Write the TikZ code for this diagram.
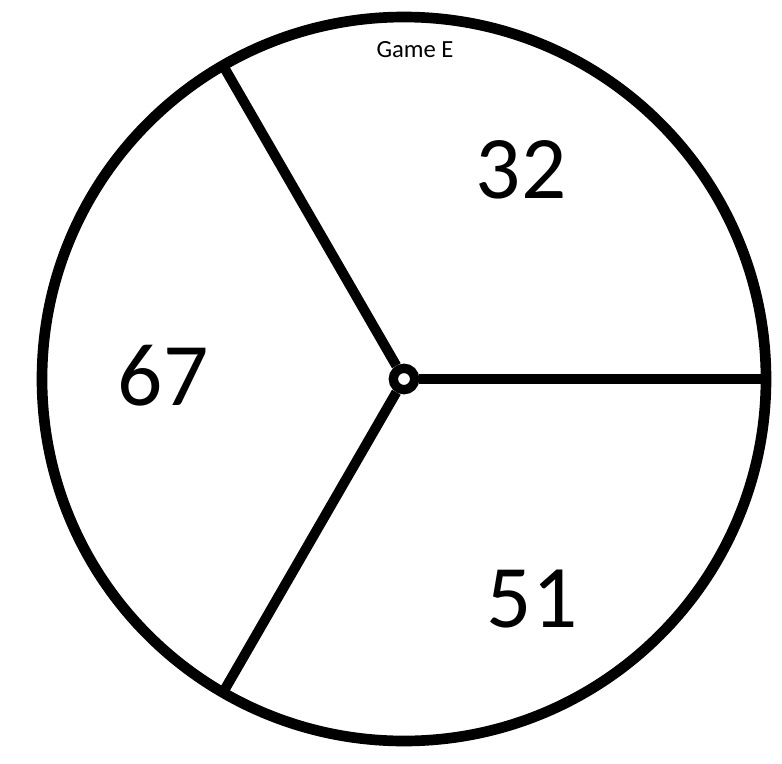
\documentclass[tikz,border=0pt]{standalone}
\usepackage{fontspec}
\setmainfont{Carlito}
\begin{document}
\begin{tikzpicture}[x=0.75pt,y=-0.75pt,
  rim/.style={line width=8pt,black},
  spoke/.style={line width=7.5pt,black},
  big/.style={font=\fontsize{67}{70}\selectfont,anchor=base,inner sep=0pt},
  small/.style={font=\fontsize{18.5}{20}\selectfont,anchor=base,inner sep=0pt}]
\useasboundingbox (0,0) rectangle (782,764);
\fill[white] (0,0) rectangle (782,764);
\coordinate (c) at (404,379);
\draw[rim] (c) circle (362);
\path (c) ++(0:362) coordinate (p0);
\path (c) ++(-120:362) coordinate (p1);
\path (c) ++(120:362) coordinate (p2);
\node[circle,draw,line width=7pt,minimum size=16pt,inner sep=0pt] (hub) at (c) {};
\draw[spoke] (hub) -- (p0);
\draw[spoke] (hub) -- (p1);
\draw[spoke] (hub) -- (p2);
\node[small] (title) at (415,57) {Game E};
\node[big] (n32) at (521,198) {32};
\node[big] (n67) at (163,405) {67};
\node[big] (n51) at (532,627) {51};
\end{tikzpicture}
\end{document}
